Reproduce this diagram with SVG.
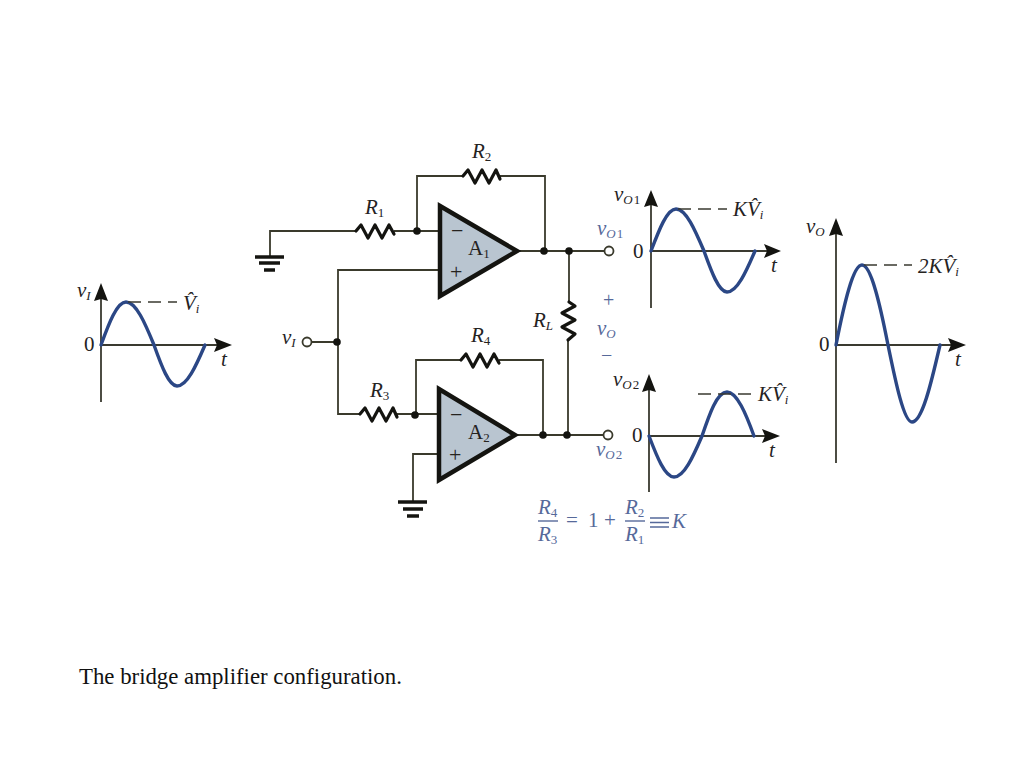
<svg xmlns="http://www.w3.org/2000/svg" width="1024" height="768" viewBox="0 0 1024 768">
<style>
text{font-family:"Liberation Serif","Times New Roman",serif;fill:#25231f;font-size:21px}
.i{font-style:italic}
.b{fill:#56699a}
.s{font-size:13px}
.w{fill:none;stroke:#3a3a2c;stroke-width:1.8}
.r{fill:none;stroke:#141410;stroke-width:3.2;stroke-linejoin:round;stroke-linecap:round}
.g{fill:none;stroke:#141410;stroke-width:3.5}
.a{fill:none;stroke:#3a3a30;stroke-width:1.8}
.h{fill:#141410}
.sine{fill:none;stroke:#2b4785;stroke-width:3.4;stroke-linecap:round}
.d{fill:none;stroke:#3a3a30;stroke-width:1.6;stroke-dasharray:13 7}
.o{fill:#141410}
.t{fill:#fff;stroke:#3a3a2c;stroke-width:1.8}
.tri{fill:#b9c5d0;stroke:#141410;stroke-width:4.5;stroke-linejoin:miter}
</style>
<rect width="1024" height="768" fill="#fff"/>
<g id="connectors">
<path class="w" d="M270 257V231H356M394 231H440M417 231V176H463M500 176H545V251M519 251H604.500"/>
<path class="w" d="M440 270H338V414H360M397 414H438M311.500 342H338M416 414V360H461M499 360H543V435M517 435H603.500"/>
<path class="w" d="M569 251V301M568 340V435M438 454H413V502"/>
</g>
<g id="R1"><path class="r" d="M356 231L361 225L368 238L375 225L382 238L389 225L394 234"/><text class="i" x="365" y="214">R<tspan class="s" dy="3" font-style="normal">1</tspan></text></g>
<g id="R2"><path class="r" d="M463 176L468 170L475 183L482 170L489 183L496 170L500 179"/><text class="i" x="472" y="158">R<tspan class="s" dy="3" font-style="normal">2</tspan></text></g>
<g id="R3"><path class="r" d="M360 414L365 408L372 421L379 408L386 421L393 408L397 417"/><text class="i" x="370" y="397">R<tspan class="s" dy="3" font-style="normal">3</tspan></text></g>
<g id="R4"><path class="r" d="M461 360L466 354L473 367L480 354L487 367L494 354L499 363"/><text class="i" x="471" y="342">R<tspan class="s" dy="3" font-style="normal">4</tspan></text></g>
<g id="RL"><path class="r" d="M569 302L575 306L562 313L575 320L562 327L575 334L568 340"/><text class="i" x="533" y="327">R<tspan class="s" dy="3">L</tspan></text></g>
<g id="A1"><path class="tri" d="M440 206V296L517 251Z"/><text x="451" y="238" style="font-size:22px">−</text><text x="450" y="279" style="font-size:22px">+</text><text x="468" y="255">A<tspan class="s" dy="3">1</tspan></text></g>
<g id="A2"><path class="tri" d="M439 389V480L515 435Z"/><text x="450" y="422" style="font-size:22px">−</text><text x="449" y="462" style="font-size:22px">+</text><text x="468" y="439">A<tspan class="s" dy="3">2</tspan></text></g>
<g id="gnd1"><path class="g" d="M255 257H284"/><path class="g" d="M259 263H280"/><path class="g" d="M264 270H275"/></g>
<g id="gnd2"><path class="g" d="M398 502H427"/><path class="g" d="M403 509H423"/><path class="g" d="M407 516H419"/></g>
<g id="junctions">
<circle class="o" cx="417" cy="231" r="3.8"/><circle class="o" cx="544" cy="251" r="3.8"/><circle class="o" cx="569" cy="251" r="3.8"/>
<circle class="o" cx="337" cy="342" r="3.8"/><circle class="o" cx="415" cy="415" r="3.8"/><circle class="o" cx="543" cy="435" r="3.8"/><circle class="o" cx="567" cy="435" r="3.8"/>
</g>
<g id="term-vI"><circle class="t" cx="307" cy="342" r="4.5"/><text class="i" x="282" y="344">v<tspan class="s" dy="3">I</tspan></text></g>
<g id="term-vO1"><circle class="t" cx="609" cy="251" r="4.5"/><text class="i b" x="597" y="235">v<tspan class="s b" dy="3">O</tspan><tspan class="s b" font-style="normal" dx="1">1</tspan></text></g>
<g id="term-vO2"><circle class="t" cx="608" cy="435" r="4.5"/><text class="i b" x="596" y="456">v<tspan class="s b" dy="3">O</tspan><tspan class="s b" font-style="normal" dx="1">2</tspan></text></g>
<g id="vO-label"><text class="b" x="603" y="307" style="font-size:20px">+</text><text class="i b" x="597" y="335">v<tspan class="s b" dy="3">O</tspan></text><text class="b" x="601" y="362" style="font-size:20px">−</text></g>
<g id="equation">
<text class="i b" x="538" y="514">R<tspan class="s b" dy="3" font-style="normal">4</tspan></text>
<path d="M538 521H558" stroke="#56699a" stroke-width="1.4"/>
<text class="i b" x="538" y="541">R<tspan class="s b" dy="3" font-style="normal">3</tspan></text>
<text class="b" x="566" y="527">=</text><text class="b" x="588" y="527">1</text><text class="b" x="604" y="527">+</text>
<text class="i b" x="625" y="514">R<tspan class="s b" dy="3" font-style="normal">2</tspan></text>
<path d="M625 521H645" stroke="#56699a" stroke-width="1.4"/>
<text class="i b" x="625" y="541">R<tspan class="s b" dy="3" font-style="normal">1</tspan></text>
<path d="M650 518H669M650 522.500H669M650 527H669" stroke="#56699a" stroke-width="1.4"/>
<text class="i b" x="672" y="528">K</text>
</g>
<g id="wave-vI">
<path class="a" d="M101 402V298M101 345H218"/><path class="h" d="M101 283L108 301L101 299L94 301ZM232 345L214 338L217 345L214 352Z"/>
<path class="sine" d="M101 345C109 323 117 302 126 302C136 302 145 323 154 345C161.500 366 169 386 177 386C187 386 196 366 205 345"/>
<path class="d" d="M128 302H177"/>
<text class="i" x="77" y="297">v<tspan class="s" dy="3">I</tspan></text><text x="84" y="351">0</text><text class="i" x="221" y="366">t</text><text class="i" x="183" y="310">V̂<tspan class="s" dy="3">i</tspan></text>
</g>
<g id="wave-vO1">
<path class="a" d="M651 308V204M651 251H768"/><path class="h" d="M651 190L658 207L651 205L644 207ZM781 251L764 244L767 251L764 258Z"/>
<path class="sine" d="M651 251C659 230 667 209 676 209C686 209 695 230 704 251C711.500 272 719 292 727 292C737 292 746 272 755 251"/>
<path class="d" d="M678 209H727"/>
<text class="i" x="614" y="201">v<tspan class="s" dy="3">O</tspan><tspan class="s" font-style="normal" dx="1">1</tspan></text><text x="633" y="258">0</text><text class="i" x="771" y="272">t</text><text class="i" x="733" y="216">KV̂<tspan class="s" dy="3">i</tspan></text>
</g>
<g id="wave-vO2">
<path class="a" d="M649 492V388M649 436H766"/><path class="h" d="M649 374L656 392L649 390L642 392ZM780 436L762 429L765 436L762 443Z"/>
<path class="sine" d="M649 436C657 457 665 477 674 477C684 477 693 457 702 436C709.500 414 717 392 727 392C737 392 746 414 754 436"/>
<path class="d" d="M698 394H751"/>
<text class="i" x="613" y="386">v<tspan class="s" dy="3">O</tspan><tspan class="s" font-style="normal" dx="1">2</tspan></text><text x="632" y="442">0</text><text class="i" x="769" y="457">t</text><text class="i" x="758" y="401">KV̂<tspan class="s" dy="3">i</tspan></text>
</g>
<g id="wave-vO">
<path class="a" d="M836 463V232M836 345H952"/><path class="h" d="M836 218L843 236L836 234L829 236ZM966 345L948 338L951 345L948 352Z"/>
<path class="sine" d="M836 345C844 304 853 265 862 265C871 265 880 304 888 345C896 384 904 422 912 422C922 422 931 384 940 345"/>
<path class="d" d="M864 265H912"/>
<text class="i" x="806" y="233">v<tspan class="s" dy="3">O</tspan></text><text x="819" y="351">0</text><text class="i" x="955" y="366">t</text><text class="i" x="918" y="273">2KV̂<tspan class="s" dy="3">i</tspan></text>
</g>
<text id="caption" x="79" y="684" style="font-size:22.800px;fill:#111">The bridge amplifier configuration.</text>
</svg>
